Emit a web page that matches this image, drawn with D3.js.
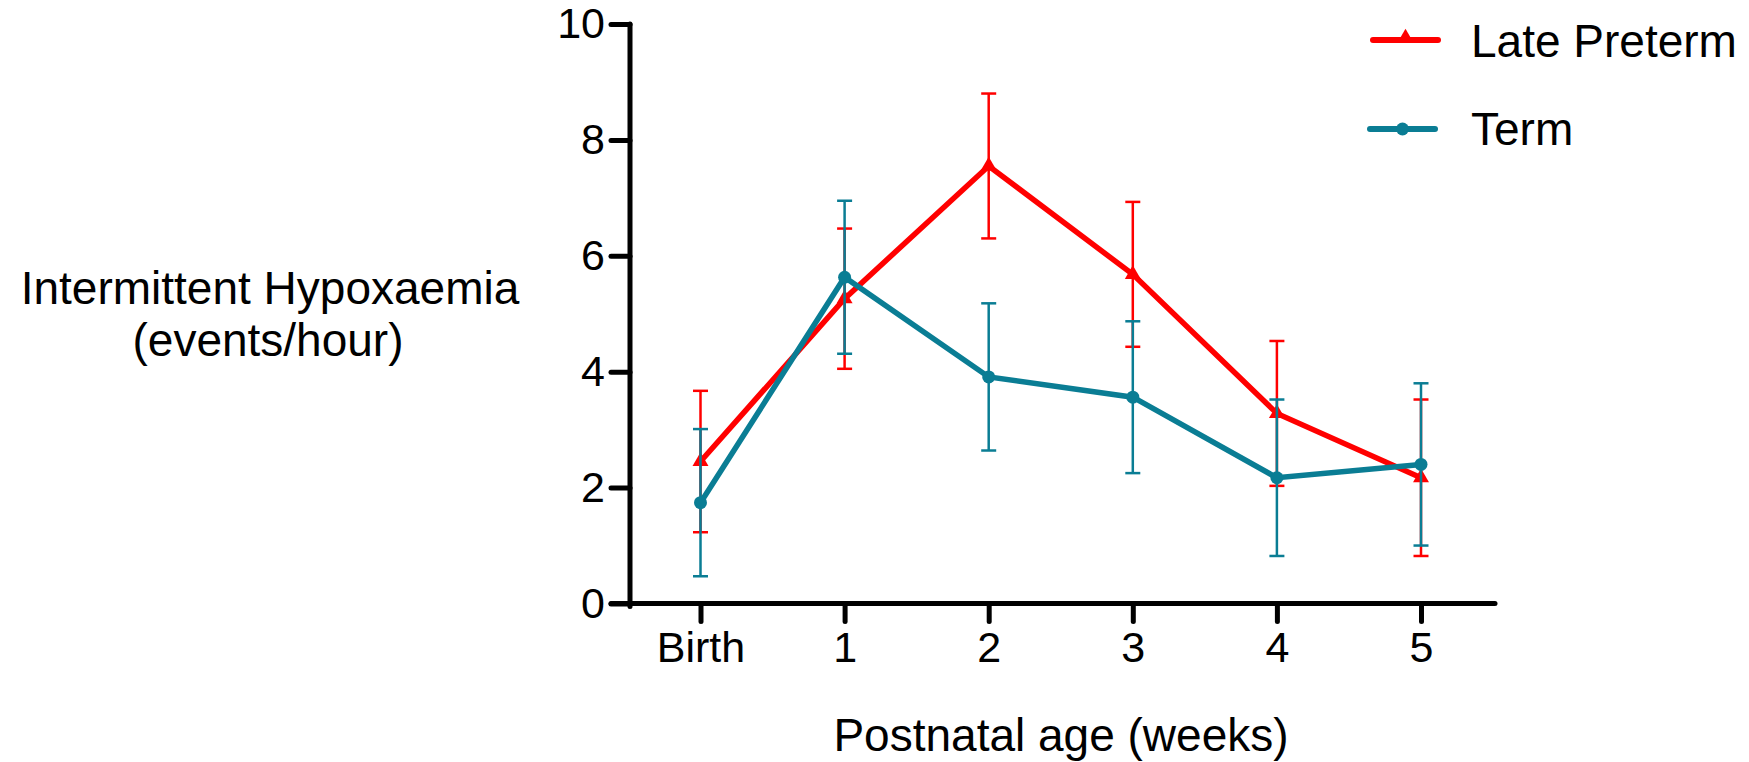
<!DOCTYPE html>
<html>
<head>
<meta charset="utf-8">
<script src="https://cdn.jsdelivr.net/npm/d3@7"></script>
<style>
  html, body { margin: 0; padding: 0; background: #fff; }
  svg { display: block; font-family: "Liberation Sans", Arial, sans-serif; }
</style>
</head>
<body>
<svg id="chart" width="1749" height="762"></svg>
<script>
// ---- data ----
const categories = ["Birth", "1", "2", "3", "4", "5"];
const latePretermMean = [2.45, 5.26, 7.55, 5.68, 3.28, 2.17];
const latePretermErr  = [1.22, 1.21, 1.25, 1.25, 1.25, 1.35];
const termMean = [1.74, 5.63, 3.91, 3.56, 2.17, 2.40];
const termErr  = [1.27, 1.32, 1.27, 1.31, 1.35, 1.40];
const yTicks = [0, 2, 4, 6, 8, 10];
const seriesNames = ["Late Preterm", "Term"];
const yTitle = ["Intermittent Hypoxaemia", "(events/hour)"];
const xTitle = "Postnatal age (weeks)";

const RED = "#ff0000";
const TEAL = "#0a7d94";

const svg = d3.select("#chart");

const axisX = 630;          // y-axis position
const x = d3.scalePoint().domain(categories).range([700.5, 1421]);
const y = d3.scaleLinear().domain([0, 10]).range([603.5, 24]);

// ---- axes ----
const yAxis = svg.append("g")
  .attr("transform", `translate(${axisX},0)`)
  .call(d3.axisLeft(y).tickValues(yTicks).tickSize(19).tickSizeOuter(0).tickPadding(6));
yAxis.select(".domain").attr("stroke", "#000").attr("stroke-width", 5).attr("stroke-linecap", "round")
  .attr("d", `M0,${y(10)}V${y(0) + 3}`);
yAxis.selectAll(".tick line").attr("stroke", "#000").attr("stroke-width", 5).attr("stroke-linecap", "round");
yAxis.selectAll(".tick text").attr("fill", "#000").style("font-size", "43px")
  .style("font-family", "'Liberation Sans', Arial, sans-serif");

const xAxis = svg.append("g")
  .attr("transform", `translate(0,${y(0)})`)
  .call(d3.axisBottom(x).tickSize(18).tickSizeOuter(0).tickPadding(10));
xAxis.select(".domain").remove();
xAxis.selectAll(".tick line").attr("stroke", "#000").attr("stroke-width", 5).attr("stroke-linecap", "round");
xAxis.selectAll(".tick text").attr("fill", "#000").style("font-size", "43px")
  .style("font-family", "'Liberation Sans', Arial, sans-serif");
xAxis.append("line")
  .attr("x1", axisX - 19).attr("x2", 1495).attr("y1", 0).attr("y2", 0)
  .attr("stroke", "#000").attr("stroke-width", 5).attr("stroke-linecap", "round");

// ---- titles ----
const yt = svg.append("text").attr("text-anchor", "middle")
  .style("font-size", "46px").attr("fill", "#000");
yt.append("tspan").attr("x", 270).attr("y", 304).text(yTitle[0]);
yt.append("tspan").attr("x", 268).attr("y", 356).text(yTitle[1]);

svg.append("text").attr("text-anchor", "middle")
  .attr("x", 1061).attr("y", 751)
  .style("font-size", "46px").attr("fill", "#000").text(xTitle);

// ---- series ----
const series = [
  { name: seriesNames[0], mean: latePretermMean, err: latePretermErr, color: RED, marker: "triangle" },
  { name: seriesNames[1], mean: termMean, err: termErr, color: TEAL, marker: "circle" }
];

const line = d3.line().x((d, i) => x(categories[i])).y(d => y(d));
const triSym = d3.symbol().type(d3.symbolTriangle).size(110);

series.forEach(s => {
  const g = svg.append("g");
  // error bars
  s.mean.forEach((m, i) => {
    const cx = x(categories[i]);
    const hi = y(m + s.err[i]), lo = y(m - s.err[i]);
    g.append("line").attr("x1", cx).attr("x2", cx).attr("y1", hi).attr("y2", lo)
      .attr("stroke", s.color).attr("stroke-width", 2.5);
    [hi, lo].forEach(v => g.append("line")
      .attr("x1", cx - 7.5).attr("x2", cx + 7.5).attr("y1", v).attr("y2", v)
      .attr("stroke", s.color).attr("stroke-width", 2.5));
  });
  // line
  g.append("path").datum(s.mean).attr("d", line)
    .attr("fill", "none").attr("stroke", s.color).attr("stroke-width", 5.5)
    .attr("stroke-linejoin", "miter");
  // markers
  s.mean.forEach((m, i) => {
    const cx = x(categories[i]);
    if (s.marker === "circle") {
      g.append("circle").attr("cx", cx).attr("cy", y(m)).attr("r", 6.5).attr("fill", s.color);
    } else {
      g.append("path").attr("d", triSym()).attr("transform", `translate(${cx},${y(m)})`).attr("fill", s.color);
    }
  });
});

// ---- legend ----
const legendRows = [
  { s: series[0], ly: 40, ty: 57, x1: 1373, x2: 1438 },
  { s: series[1], ly: 129, ty: 145, x1: 1370, x2: 1435 }
];
legendRows.forEach(r => {
  const g = svg.append("g");
  g.append("line").attr("x1", r.x1).attr("x2", r.x2).attr("y1", r.ly).attr("y2", r.ly)
    .attr("stroke", r.s.color).attr("stroke-width", 6).attr("stroke-linecap", "round");
  const cx = (r.x1 + r.x2) / 2;
  if (r.s.marker === "circle") {
    g.append("circle").attr("cx", cx).attr("cy", r.ly).attr("r", 6.5).attr("fill", r.s.color);
  } else {
    g.append("path").attr("d", triSym()).attr("transform", `translate(${cx},${r.ly - 2})`).attr("fill", r.s.color);
  }
  g.append("text").attr("x", 1471).attr("y", r.ty)
    .style("font-size", "46px").attr("fill", "#000").text(r.s.name);
});
</script>
</body>
</html>
